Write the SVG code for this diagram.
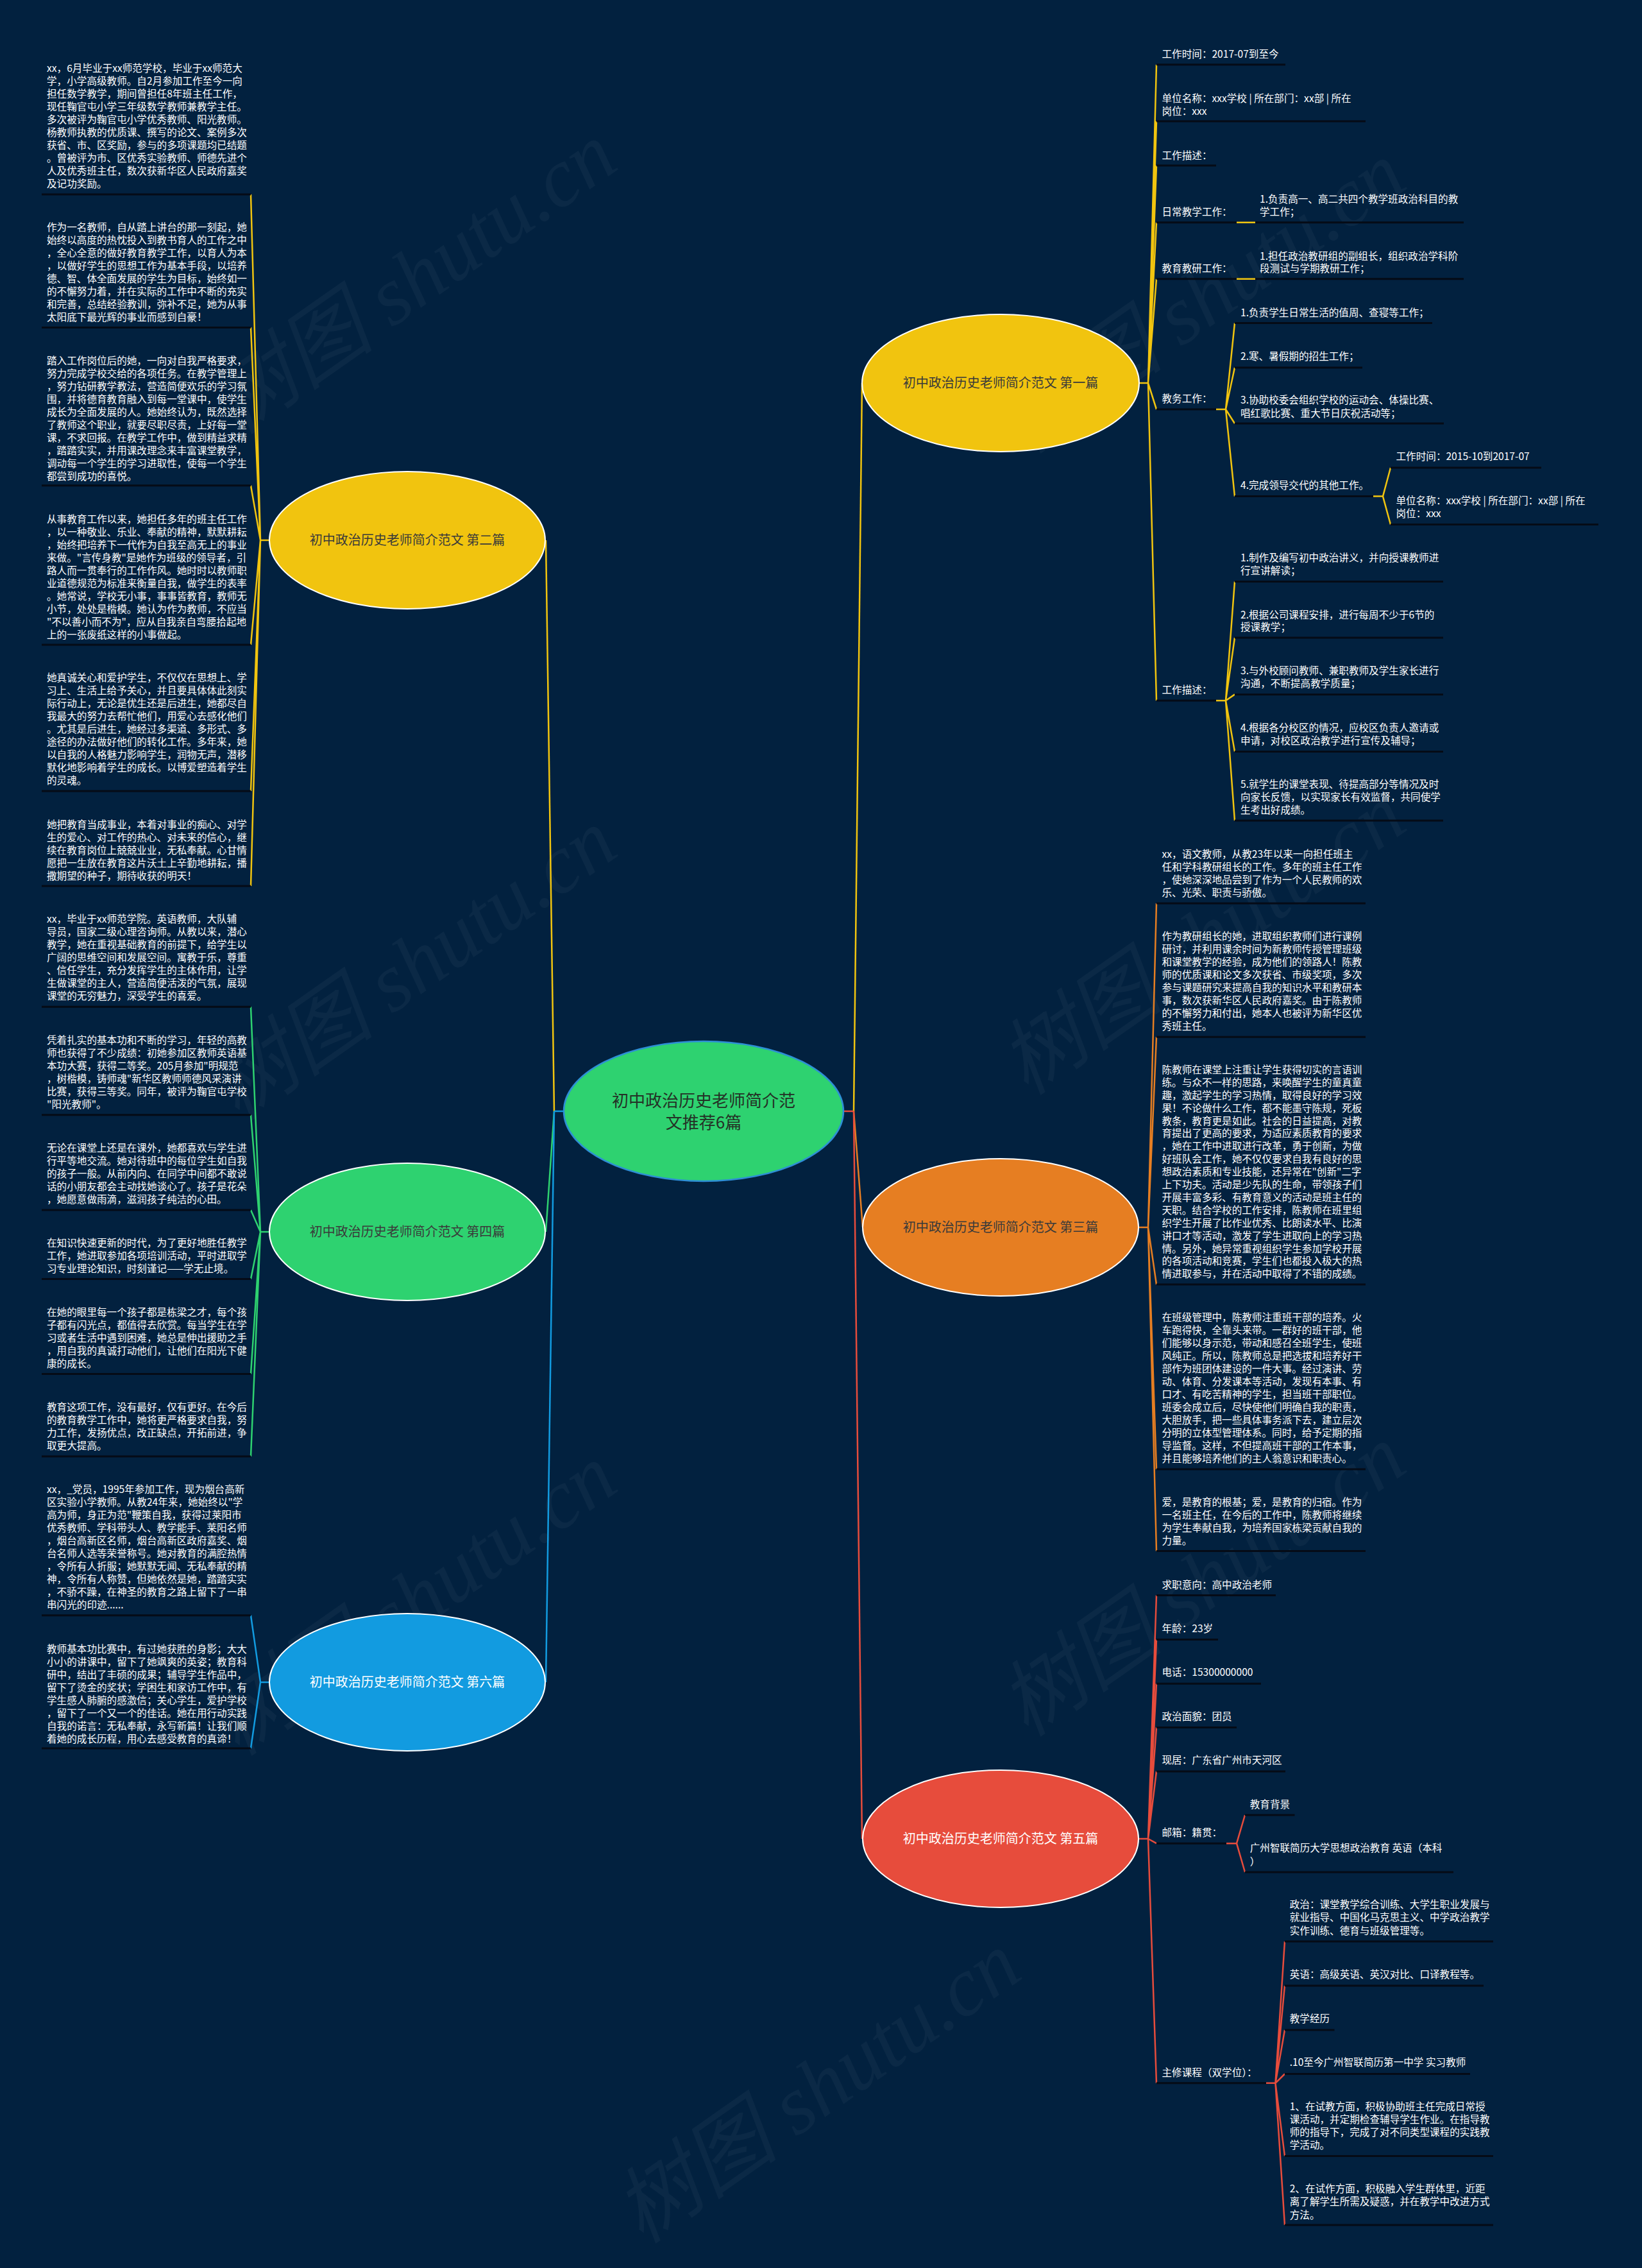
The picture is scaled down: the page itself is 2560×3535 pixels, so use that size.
<svg xmlns="http://www.w3.org/2000/svg" width="2560" height="3535" viewBox="0 0 2560 3535">
<style>
.bg{fill:#02213f}
.t{font-family:"Noto Sans CJK SC","Noto Sans",sans-serif;font-size:15.6px;fill:#ffffff}
.nt{font-family:"Noto Sans CJK SC","Noto Sans",sans-serif;font-size:20px;text-anchor:middle}
.ct{font-family:"Noto Sans CJK SC","Noto Sans",sans-serif;font-size:26px;text-anchor:middle;fill:#243126}
.ul{stroke:#050b16;stroke-width:3;fill:none}
.cy{stroke:#f1c40f;stroke-width:2.5;fill:none}
.cg{stroke:#2ed270;stroke-width:2.5;fill:none}
.cb{stroke:#129be0;stroke-width:2.5;fill:none}
.co{stroke:#e67e22;stroke-width:2.5;fill:none}
.cr{stroke:#e74c3c;stroke-width:2.5;fill:none}
.wm{font-family:"Liberation Serif","Noto Sans CJK SC",serif;font-size:130px;font-style:italic;fill:#ffffff;fill-opacity:0.04;text-anchor:middle}
.node{stroke:#ffffff;stroke-width:2}
</style>
<rect class="bg" x="0" y="0" width="2560" height="3535"/>
<g id="watermarks">
<text class="wm" transform="translate(670,470) rotate(-35)">树图 shutu.cn</text>
<text class="wm" transform="translate(1900,500) rotate(-35)">树图 shutu.cn</text>
<text class="wm" transform="translate(670,1540) rotate(-35)">树图 shutu.cn</text>
<text class="wm" transform="translate(1900,1500) rotate(-35)">树图 shutu.cn</text>
<text class="wm" transform="translate(670,2530) rotate(-35)">树图 shutu.cn</text>
<text class="wm" transform="translate(1900,2500) rotate(-35)">树图 shutu.cn</text>
<text class="wm" transform="translate(1300,3290) rotate(-35)">树图 shutu.cn</text>
</g>
<g id="connectors">
<path class="cy" d="M864 1732 L851 842"/>
<path class="cg" d="M864 1732 L851 1920"/>
<path class="cb" d="M864 1732 L851 2622"/>
<path class="cb" d="M880 1732 H864"/>
<path class="cy" d="M1331 1732 L1344 597"/>
<path class="co" d="M1331 1732 L1345 1913"/>
<path class="cr" d="M1331 1732 L1344 2866"/>
<path class="cr" d="M1315 1732 H1331"/>
<path class="cy" d="M420 842 H406 M406 842 L391 303 M406 842 L391 510.4 M406 842 L391 756.8 M406 842 L391 1005 M406 842 L391 1232.9 M406 842 L391 1381"/>
<path class="cg" d="M420 1920 H406 M406 1920 L391 1569.3 M406 1920 L391 1737.8 M406 1920 L391 1886 M406 1920 L391 1993.6 M406 1920 L391 2141.4 M406 1920 L391 2270"/>
<path class="cb" d="M420 2622 H406 M406 2622 L391 2517.7 M406 2622 L391 2725"/>
<path class="cy" d="M1775 597 H1790 M1790 597 L1803 100.7 M1790 597 L1803 189 M1790 597 L1803 258 M1790 597 L1803 346.7 M1790 597 L1803 434.8 M1790 597 L1803 638 M1790 597 L1803 1092"/>
<path class="cy" d="M1928 346.7 H1957 M1928 434.8 H1957"/>
<path class="cy" d="M1896 638 H1911 M1911 638 L1925 503.6 M1911 638 L1925 573 M1911 638 L1925 660 M1911 638 L1925 773.6"/>
<path class="cy" d="M2141 773.6 H2156 M2156 773.6 L2168 729 M2156 773.6 L2168 817.5"/>
<path class="cy" d="M1896 1092 H1911 M1911 1092 L1925 906.5 M1911 1092 L1925 994 M1911 1092 L1925 1082.4 M1911 1092 L1925 1171.4 M1911 1092 L1925 1279"/>
<path class="co" d="M1775 1913 H1790 M1790 1913 L1803 1408 M1790 1913 L1803 1616.3 M1790 1913 L1803 2002 M1790 1913 L1803 2290 M1790 1913 L1803 2417.5"/>
<path class="cr" d="M1775 2866 H1790 M1790 2866 L1803 2486.5 M1790 2866 L1803 2555.4 M1790 2866 L1803 2624.2 M1790 2866 L1803 2692.4 M1790 2866 L1803 2761 M1790 2866 L1803 2873.2 M1790 2866 L1803 3246.8"/>
<path class="cr" d="M1912 2873.2 H1928 M1928 2873.2 L1941 2829 M1928 2873.2 L1941 2918"/>
<path class="cr" d="M1974 3246.8 H1988.5 M1988.5 3246.8 L2003 3026 M1988.5 3246.8 L2003 3095 M1988.5 3246.8 L2003 3164 M1988.5 3246.8 L2003 3232.5 M1988.5 3246.8 L2003 3360.4 M1988.5 3246.8 L2003 3468"/>
</g>
<g id="center">
<ellipse cx="1097" cy="1732" rx="218" ry="109" fill="#2ed270" stroke="#2d8fd5" stroke-width="2.5"/>
<text class="ct" x="1097" y="1724.5">初中政治历史老师简介范</text>
<text class="ct" x="1097" y="1759">文推荐6篇</text>
</g>
<g id="n1">
<ellipse class="node" cx="1560" cy="597" rx="216" ry="107" fill="#f1c40f"/>
<text class="nt" x="1560" y="604" fill="#3a3a3a">初中政治历史老师简介范文 第一篇</text>
</g>
<g id="n2">
<ellipse class="node" cx="635" cy="842" rx="215" ry="107" fill="#f1c40f"/>
<text class="nt" x="635" y="849" fill="#3a3a3a">初中政治历史老师简介范文 第二篇</text>
</g>
<g id="n3">
<ellipse class="node" cx="1560" cy="1913" rx="215" ry="107" fill="#e67e22"/>
<text class="nt" x="1560" y="1920" fill="#3a3a3a">初中政治历史老师简介范文 第三篇</text>
</g>
<g id="n4">
<ellipse class="node" cx="635" cy="1920" rx="215" ry="107" fill="#2ed270"/>
<text class="nt" x="635" y="1927" fill="#3a3a3a">初中政治历史老师简介范文 第四篇</text>
</g>
<g id="n5">
<ellipse class="node" cx="1560" cy="2866" rx="215" ry="107" fill="#e74c3c"/>
<text class="nt" x="1560" y="2873" fill="#ffffff">初中政治历史老师简介范文 第五篇</text>
</g>
<g id="n6">
<ellipse class="node" cx="635" cy="2622" rx="215" ry="107" fill="#129be0"/>
<text class="nt" x="635" y="2629" fill="#ffffff">初中政治历史老师简介范文 第六篇</text>
</g>
<g id="left-texts">
<g id="l1"><path class="ul" d="M65 303 H391"/><text class="t" x="73" y="112.3"><tspan x="73">xx，6月毕业于xx师范学校，毕业于xx师范大</tspan><tspan x="73" dy="20">学，小学高级教师。自2月参加工作至今一向</tspan><tspan x="73" dy="20">担任数学教学，期间曾担任8年班主任工作，</tspan><tspan x="73" dy="20">现任鞠官屯小学三年级数学教师兼教学主任。</tspan><tspan x="73" dy="20">多次被评为鞠官屯小学优秀教师、阳光教师。</tspan><tspan x="73" dy="20">杨教师执教的优质课、撰写的论文、案例多次</tspan><tspan x="73" dy="20">获省、市、区奖励，参与的多项课题均已结题</tspan><tspan x="73" dy="20">。曾被评为市、区优秀实验教师、师德先进个</tspan><tspan x="73" dy="20">人及优秀班主任，数次获新华区人民政府嘉奖</tspan><tspan x="73" dy="20">及记功奖励。</tspan></text></g>
<g id="l2"><path class="ul" d="M65 510.4 H391"/><text class="t" x="73" y="359.8"><tspan x="73">作为一名教师，自从踏上讲台的那一刻起，她</tspan><tspan x="73" dy="20">始终以高度的热忱投入到教书育人的工作之中</tspan><tspan x="73" dy="20">，全心全意的做好教育教学工作，以育人为本</tspan><tspan x="73" dy="20">，以做好学生的思想工作为基本手段，以培养</tspan><tspan x="73" dy="20">德、智、体全面发展的学生为目标，始终如一</tspan><tspan x="73" dy="20">的不懈努力着，并在实际的工作中不断的充实</tspan><tspan x="73" dy="20">和完善，总结经验教训，弥补不足，她为从事</tspan><tspan x="73" dy="20">太阳底下最光辉的事业而感到自豪！</tspan></text></g>
<g id="l3"><path class="ul" d="M65 756.8 H391"/><text class="t" x="73" y="567.5"><tspan x="73">踏入工作岗位后的她，一向对自我严格要求，</tspan><tspan x="73" dy="20">努力完成学校交给的各项任务。在教学管理上</tspan><tspan x="73" dy="20">，努力钻研教学教法，营造简便欢乐的学习氛</tspan><tspan x="73" dy="20">围，并将德育教育融入到每一堂课中，使学生</tspan><tspan x="73" dy="20">成长为全面发展的人。她始终认为，既然选择</tspan><tspan x="73" dy="20">了教师这个职业，就要尽职尽责，上好每一堂</tspan><tspan x="73" dy="20">课，不求回报。在教学工作中，做到精益求精</tspan><tspan x="73" dy="20">，踏踏实实，并用课改理念来丰富课堂教学，</tspan><tspan x="73" dy="20">调动每一个学生的学习进取性，使每一个学生</tspan><tspan x="73" dy="20">都尝到成功的喜悦。</tspan></text></g>
<g id="l4"><path class="ul" d="M65 1005 H391"/><text class="t" x="73" y="815.1"><tspan x="73">从事教育工作以来，她担任多年的班主任工作</tspan><tspan x="73" dy="20">，以一种敬业、乐业、奉献的精神，默默耕耘</tspan><tspan x="73" dy="20">，始终把培养下一代作为自我至高无上的事业</tspan><tspan x="73" dy="20">来做。"言传身教"是她作为班级的领导者，引</tspan><tspan x="73" dy="20">路人而一贯奉行的工作作风。她时时以教师职</tspan><tspan x="73" dy="20">业道德规范为标准来衡量自我，做学生的表率</tspan><tspan x="73" dy="20">。她常说，学校无小事，事事皆教育，教师无</tspan><tspan x="73" dy="20">小节，处处是楷模。她认为作为教师，不应当</tspan><tspan x="73" dy="20">"不以善小而不为"，应从自我亲自弯腰拾起地</tspan><tspan x="73" dy="20">上的一张废纸这样的小事做起。</tspan></text></g>
<g id="l5"><path class="ul" d="M65 1232.9 H391"/><text class="t" x="73" y="1062.3"><tspan x="73">她真诚关心和爱护学生，不仅仅在思想上、学</tspan><tspan x="73" dy="20">习上、生活上给予关心，并且要具体体此刻实</tspan><tspan x="73" dy="20">际行动上，无论是优生还是后进生，她都尽自</tspan><tspan x="73" dy="20">我最大的努力去帮忙他们，用爱心去感化他们</tspan><tspan x="73" dy="20">。尤其是后进生，她经过多渠道、多形式、多</tspan><tspan x="73" dy="20">途径的办法做好他们的转化工作。多年来，她</tspan><tspan x="73" dy="20">以自我的人格魅力影响学生，润物无声，潜移</tspan><tspan x="73" dy="20">默化地影响着学生的成长。以博爱塑造着学生</tspan><tspan x="73" dy="20">的灵魂。</tspan></text></g>
<g id="l6"><path class="ul" d="M65 1381 H391"/><text class="t" x="73" y="1290.9"><tspan x="73">她把教育当成事业，本着对事业的痴心、对学</tspan><tspan x="73" dy="20">生的爱心、对工作的热心、对未来的信心，继</tspan><tspan x="73" dy="20">续在教育岗位上兢兢业业，无私奉献。心甘情</tspan><tspan x="73" dy="20">愿把一生放在教育这片沃土上辛勤地耕耘，播</tspan><tspan x="73" dy="20">撒期望的种子，期待收获的明天！</tspan></text></g>
<g id="l7"><path class="ul" d="M65 1569.3 H391"/><text class="t" x="73" y="1438.4"><tspan x="73">xx，毕业于xx师范学院。英语教师，大队辅</tspan><tspan x="73" dy="20">导员，国家二级心理咨询师。从教以来，潜心</tspan><tspan x="73" dy="20">教学，她在重视基础教育的前提下，给学生以</tspan><tspan x="73" dy="20">广阔的思维空间和发展空间。寓教于乐，尊重</tspan><tspan x="73" dy="20">、信任学生，充分发挥学生的主体作用，让学</tspan><tspan x="73" dy="20">生做课堂的主人，营造简便活泼的气氛，展现</tspan><tspan x="73" dy="20">课堂的无穷魅力，深受学生的喜爱。</tspan></text></g>
<g id="l8"><path class="ul" d="M65 1737.8 H391"/><text class="t" x="73" y="1626.5"><tspan x="73">凭着扎实的基本功和不断的学习，年轻的高教</tspan><tspan x="73" dy="20">师也获得了不少成绩：初她参加区教师英语基</tspan><tspan x="73" dy="20">本功大赛，获得二等奖。205月参加"明规范</tspan><tspan x="73" dy="20">，树楷模，铸师魂"新华区教师师德风采演讲</tspan><tspan x="73" dy="20">比赛，获得三等奖。同年，被评为鞠官屯学校</tspan><tspan x="73" dy="20">"阳光教师"。</tspan></text></g>
<g id="l9"><path class="ul" d="M65 1886 H391"/><text class="t" x="73" y="1794.5"><tspan x="73">无论在课堂上还是在课外，她都喜欢与学生进</tspan><tspan x="73" dy="20">行平等地交流。她对待班中的每位学生如自我</tspan><tspan x="73" dy="20">的孩子一般。从前内向、在同学中间都不敢说</tspan><tspan x="73" dy="20">话的小朋友都会主动找她谈心了。孩子是花朵</tspan><tspan x="73" dy="20">，她愿意做雨滴，滋润孩子纯洁的心田。</tspan></text></g>
<g id="l10"><path class="ul" d="M65 1993.6 H391"/><text class="t" x="73" y="1942.5"><tspan x="73">在知识快速更新的时代，为了更好地胜任教学</tspan><tspan x="73" dy="20">工作，她进取参加各项培训活动，平时进取学</tspan><tspan x="73" dy="20">习专业理论知识，时刻谨记——学无止境。</tspan></text></g>
<g id="l11"><path class="ul" d="M65 2141.4 H391"/><text class="t" x="73" y="2050.9"><tspan x="73">在她的眼里每一个孩子都是栋梁之才，每个孩</tspan><tspan x="73" dy="20">子都有闪光点，都值得去欣赏。每当学生在学</tspan><tspan x="73" dy="20">习或者生活中遇到困难，她总是伸出援助之手</tspan><tspan x="73" dy="20">，用自我的真诚打动他们，让他们在阳光下健</tspan><tspan x="73" dy="20">康的成长。</tspan></text></g>
<g id="l12"><path class="ul" d="M65 2270 H391"/><text class="t" x="73" y="2199.1"><tspan x="73">教育这项工作，没有最好，仅有更好。在今后</tspan><tspan x="73" dy="20">的教育教学工作中，她将更严格要求自我，努</tspan><tspan x="73" dy="20">力工作，发扬优点，改正缺点，开拓前进，争</tspan><tspan x="73" dy="20">取更大提高。</tspan></text></g>
<g id="l13"><path class="ul" d="M65 2517.7 H391"/><text class="t" x="73" y="2327.2"><tspan x="73">xx，_党员，1995年参加工作，现为烟台高新</tspan><tspan x="73" dy="20">区实验小学教师。从教24年来，她始终以"学</tspan><tspan x="73" dy="20">高为师，身正为范"鞭策自我，获得过莱阳市</tspan><tspan x="73" dy="20">优秀教师、学科带头人、教学能手、莱阳名师</tspan><tspan x="73" dy="20">，烟台高新区名师，烟台高新区政府嘉奖、烟</tspan><tspan x="73" dy="20">台名师人选等荣誉称号。她对教育的满腔热情</tspan><tspan x="73" dy="20">，令所有人折服；她默默无闻、无私奉献的精</tspan><tspan x="73" dy="20">神，令所有人称赞，但她依然是她，踏踏实实</tspan><tspan x="73" dy="20">，不骄不躁，在神圣的教育之路上留下了一串</tspan><tspan x="73" dy="20">串闪光的印迹......</tspan></text></g>
<g id="l14"><path class="ul" d="M65 2725 H391"/><text class="t" x="73" y="2575.5"><tspan x="73">教师基本功比赛中，有过她获胜的身影；大大</tspan><tspan x="73" dy="20">小小的讲课中，留下了她飒爽的英姿；教育科</tspan><tspan x="73" dy="20">研中，结出了丰硕的成果；辅导学生作品中，</tspan><tspan x="73" dy="20">留下了烫金的奖状；学困生和家访工作中，有</tspan><tspan x="73" dy="20">学生感人肺腑的感激信；关心学生，爱护学校</tspan><tspan x="73" dy="20">，留下了一个又一个的佳话。她在用行动实践</tspan><tspan x="73" dy="20">自我的诺言：无私奉献，永写新篇！让我们顺</tspan><tspan x="73" dy="20">着她的成长历程，用心去感受教育的真谛！</tspan></text></g>
</g>
<g id="right-texts">
<g id="r1"><path class="ul" d="M1803 100.7 H2004"/><text class="t" x="1811.5" y="90">工作时间：2017-07到至今</text></g>
<g id="r2"><path class="ul" d="M1803 189 H2129"/><text class="t" x="1811.5" y="158.5"><tspan x="1811.5">单位名称：xxx学校 | 所在部门：xx部 | 所在</tspan><tspan x="1811.5" dy="20.5">岗位：xxx</tspan></text></g>
<g id="r3"><path class="ul" d="M1803 258 H1896"/><text class="t" x="1811.5" y="247.5">工作描述：</text></g>
<g id="r4"><path class="ul" d="M1803 346.7 H1928"/><text class="t" x="1811.5" y="335.5">日常教学工作：</text></g>
<g id="r4a"><path class="ul" d="M1957 346.7 H2282"/><text class="t" x="1964" y="315.5"><tspan x="1964">1.负责高一、高二共四个教学班政治科目的教</tspan><tspan x="1964" dy="20">学工作；</tspan></text></g>
<g id="r5"><path class="ul" d="M1803 434.8 H1928"/><text class="t" x="1811.5" y="424.1">教育教研工作：</text></g>
<g id="r5a"><path class="ul" d="M1957 434.8 H2282"/><text class="t" x="1964" y="404.5"><tspan x="1964">1.担任政治教研组的副组长，组织政治学科阶</tspan><tspan x="1964" dy="19.6">段测试与学期教研工作；</tspan></text></g>
<g id="r6"><path class="ul" d="M1803 638 H1896"/><text class="t" x="1811.5" y="627">教务工作：</text></g>
<g id="r6a"><path class="ul" d="M1925 503.6 H2233"/><text class="t" x="1934" y="492.5">1.负责学生日常生活的值周、查寝等工作；</text></g>
<g id="r6b"><path class="ul" d="M1925 573 H2124"/><text class="t" x="1934" y="560.5">2.寒、暑假期的招生工作；</text></g>
<g id="r6c"><path class="ul" d="M1925 660 H2251"/><text class="t" x="1934" y="629"><tspan x="1934">3.协助校委会组织学校的运动会、体操比赛、</tspan><tspan x="1934" dy="20.5">唱红歌比赛、重大节日庆祝活动等；</tspan></text></g>
<g id="r6d"><path class="ul" d="M1925 773.6 H2141"/><text class="t" x="1934" y="761.5">4.完成领导交代的其他工作。</text></g>
<g id="r6d1"><path class="ul" d="M2168 729 H2403"/><text class="t" x="2176.5" y="717">工作时间：2015-10到2017-07</text></g>
<g id="r6d2"><path class="ul" d="M2168 817.5 H2492"/><text class="t" x="2176.5" y="786.2"><tspan x="2176.5">单位名称：xxx学校 | 所在部门：xx部 | 所在</tspan><tspan x="2176.5" dy="19.8">岗位：xxx</tspan></text></g>
<g id="r7"><path class="ul" d="M1803 1092 H1896"/><text class="t" x="1811.5" y="1080.5">工作描述：</text></g>
<g id="r7a"><path class="ul" d="M1925 906.5 H2250"/><text class="t" x="1934" y="875.2"><tspan x="1934">1.制作及编写初中政治讲义，并向授课教师进</tspan><tspan x="1934" dy="19.8">行宣讲解读；</tspan></text></g>
<g id="r7b"><path class="ul" d="M1925 994 H2250"/><text class="t" x="1934" y="963.5"><tspan x="1934">2.根据公司课程安排，进行每周不少于6节的</tspan><tspan x="1934" dy="19.6">授课教学；</tspan></text></g>
<g id="r7c"><path class="ul" d="M1925 1082.4 H2250"/><text class="t" x="1934" y="1051.1"><tspan x="1934">3.与外校顾问教师、兼职教师及学生家长进行</tspan><tspan x="1934" dy="19.8">沟通，不断提高教学质量；</tspan></text></g>
<g id="r7d"><path class="ul" d="M1925 1171.4 H2250"/><text class="t" x="1934" y="1140.1"><tspan x="1934">4.根据各分校区的情况，应校区负责人邀请或</tspan><tspan x="1934" dy="19.8">申请，对校区政治教学进行宣传及辅导；</tspan></text></g>
<g id="r7e"><path class="ul" d="M1925 1279 H2250"/><text class="t" x="1934" y="1228.3"><tspan x="1934">5.就学生的课堂表现、待提高部分等情况及时</tspan><tspan x="1934" dy="19.8">向家长反馈，以实现家长有效监督，共同使学</tspan><tspan x="1934" dy="19.8">生考出好成绩。</tspan></text></g>
<g id="o1"><path class="ul" d="M1803 1408 H2129"/><text class="t" x="1811.5" y="1336.9"><tspan x="1811.5">xx，语文教师，从教23年以来一向担任班主</tspan><tspan x="1811.5" dy="20">任和学科教研组长的工作。多年的班主任工作</tspan><tspan x="1811.5" dy="20">，使她深深地品尝到了作为一个人民教师的欢</tspan><tspan x="1811.5" dy="20">乐、光荣、职责与骄傲。</tspan></text></g>
<g id="o2"><path class="ul" d="M1803 1616.3 H2129"/><text class="t" x="1811.5" y="1465.3"><tspan x="1811.5">作为教研组长的她，进取组织教师们进行课例</tspan><tspan x="1811.5" dy="19.9">研讨，并利用课余时间为新教师传授管理班级</tspan><tspan x="1811.5" dy="19.9">和课堂教学的经验，成为他们的领路人！陈教</tspan><tspan x="1811.5" dy="19.9">师的优质课和论文多次获省、市级奖项，多次</tspan><tspan x="1811.5" dy="19.9">参与课题研究来提高自我的知识水平和教研本</tspan><tspan x="1811.5" dy="19.9">事，数次获新华区人民政府嘉奖。由于陈教师</tspan><tspan x="1811.5" dy="19.9">的不懈努力和付出，她本人也被评为新华区优</tspan><tspan x="1811.5" dy="19.9">秀班主任。</tspan></text></g>
<g id="o3"><path class="ul" d="M1803 2002 H2129"/><text class="t" x="1811.5" y="1672.9"><tspan x="1811.5">陈教师在课堂上注重让学生获得切实的言语训</tspan><tspan x="1811.5" dy="19.9">练。与众不一样的思路，来唤醒学生的童真童</tspan><tspan x="1811.5" dy="19.9">趣，激起学生的学习热情，取得良好的学习效</tspan><tspan x="1811.5" dy="19.9">果！不论做什么工作，都不能墨守陈规，死板</tspan><tspan x="1811.5" dy="19.9">教条，教育更是如此。社会的日益提高，对教</tspan><tspan x="1811.5" dy="19.9">育提出了更高的要求，为适应素质教育的要求</tspan><tspan x="1811.5" dy="19.9">，她在工作中进取进行改革，勇于创新，为做</tspan><tspan x="1811.5" dy="19.9">好班队会工作，她不仅仅要求自我有良好的思</tspan><tspan x="1811.5" dy="19.9">想政治素质和专业技能，还异常在"创新"二字</tspan><tspan x="1811.5" dy="19.9">上下功夫。活动是少先队的生命，带领孩子们</tspan><tspan x="1811.5" dy="19.9">开展丰富多彩、有教育意义的活动是班主任的</tspan><tspan x="1811.5" dy="19.9">天职。结合学校的工作安排，陈教师在班里组</tspan><tspan x="1811.5" dy="19.9">织学生开展了比作业优秀、比朗读水平、比演</tspan><tspan x="1811.5" dy="19.9">讲口才等活动，激发了学生进取向上的学习热</tspan><tspan x="1811.5" dy="19.9">情。另外，她异常重视组织学生参加学校开展</tspan><tspan x="1811.5" dy="19.9">的各项活动和竞赛，学生们也都投入极大的热</tspan><tspan x="1811.5" dy="19.9">情进取参与，并在活动中取得了不错的成绩。</tspan></text></g>
<g id="o4"><path class="ul" d="M1803 2290 H2129"/><text class="t" x="1811.5" y="2059.4"><tspan x="1811.5">在班级管理中，陈教师注重班干部的培养。火</tspan><tspan x="1811.5" dy="19.95">车跑得快，全靠头来带。一群好的班干部，他</tspan><tspan x="1811.5" dy="19.95">们能够以身示范，带动和感召全班学生，使班</tspan><tspan x="1811.5" dy="19.95">风纯正。所以，陈教师总是把选拔和培养好干</tspan><tspan x="1811.5" dy="19.95">部作为班团体建设的一件大事。经过演讲、劳</tspan><tspan x="1811.5" dy="19.95">动、体育、分发课本等活动，发现有本事、有</tspan><tspan x="1811.5" dy="19.95">口才、有吃苦精神的学生，担当班干部职位。</tspan><tspan x="1811.5" dy="19.95">班委会成立后，尽快使他们明确自我的职责，</tspan><tspan x="1811.5" dy="19.95">大胆放手，把一些具体事务派下去，建立层次</tspan><tspan x="1811.5" dy="19.95">分明的立体型管理体系。同时，给予定期的指</tspan><tspan x="1811.5" dy="19.95">导监督。这样，不但提高班干部的工作本事，</tspan><tspan x="1811.5" dy="19.95">并且能够培养他们的主人翁意识和职责心。</tspan></text></g>
<g id="o5"><path class="ul" d="M1803 2417.5 H2129"/><text class="t" x="1811.5" y="2347.2"><tspan x="1811.5">爱，是教育的根基；爱，是教育的归宿。作为</tspan><tspan x="1811.5" dy="20">一名班主任，在今后的工作中，陈教师将继续</tspan><tspan x="1811.5" dy="20">为学生奉献自我，为培养国家栋梁贡献自我的</tspan><tspan x="1811.5" dy="20">力量。</tspan></text></g>
<g id="p1"><path class="ul" d="M1803 2486.5 H1989"/><text class="t" x="1811.5" y="2475.8">求职意向：高中政治老师</text></g>
<g id="p2"><path class="ul" d="M1803 2555.4 H1899"/><text class="t" x="1811.5" y="2543.5">年龄：23岁</text></g>
<g id="p3"><path class="ul" d="M1803 2624.2 H1966"/><text class="t" x="1811.5" y="2611.5">电话：15300000000</text></g>
<g id="p4"><path class="ul" d="M1803 2692.4 H1928"/><text class="t" x="1811.5" y="2680.5">政治面貌：团员</text></g>
<g id="p5"><path class="ul" d="M1803 2761 H2004"/><text class="t" x="1811.5" y="2749.2">现居：广东省广州市天河区</text></g>
<g id="p6"><path class="ul" d="M1803 2873.2 H1912"/><text class="t" x="1811.5" y="2862.2">邮箱：籍贯：</text></g>
<g id="p6a"><path class="ul" d="M1941 2829 H2018.5"/><text class="t" x="1948.7" y="2817.5">教育背景</text></g>
<g id="p6b"><path class="ul" d="M1941 2918 H2266"/><text class="t" x="1948.7" y="2886.3"><tspan x="1948.7">广州智联简历大学思想政治教育 英语（本科</tspan><tspan x="1948.7" dy="20.6">）</tspan></text></g>
<g id="p7"><path class="ul" d="M1803 3246.8 H1974"/><text class="t" x="1811.5" y="3236.2">主修课程（双学位）：</text></g>
<g id="p7a"><path class="ul" d="M2003 3026 H2328"/><text class="t" x="2010.7" y="2974.1"><tspan x="2010.7">政治：课堂教学综合训练、大学生职业发展与</tspan><tspan x="2010.7" dy="20.3">就业指导、中国化马克思主义、中学政治教学</tspan><tspan x="2010.7" dy="20.3">实作训练、德育与班级管理等。</tspan></text></g>
<g id="p7b"><path class="ul" d="M2003 3095 H2313"/><text class="t" x="2010.7" y="3082.5">英语：高级英语、英汉对比、口译教程等。</text></g>
<g id="p7c"><path class="ul" d="M2003 3164 H2080.5"/><text class="t" x="2010.7" y="3151.5">教学经历</text></g>
<g id="p7d"><path class="ul" d="M2003 3232.5 H2292"/><text class="t" x="2010.7" y="3220.1">.10至今广州智联简历第一中学 实习教师</text></g>
<g id="p7e"><path class="ul" d="M2003 3360.4 H2328"/><text class="t" x="2010.7" y="3289.1"><tspan x="2010.7">1、在试教方面，积极协助班主任完成日常授</tspan><tspan x="2010.7" dy="20.1">课活动，并定期检查辅导学生作业。在指导教</tspan><tspan x="2010.7" dy="20.1">师的指导下，完成了对不同类型课程的实践教</tspan><tspan x="2010.7" dy="20.1">学活动。</tspan></text></g>
<g id="p7f"><path class="ul" d="M2003 3468 H2328"/><text class="t" x="2010.7" y="3417.3"><tspan x="2010.7">2、在试作方面，积极融入学生群体里，近距</tspan><tspan x="2010.7" dy="20.1">离了解学生所需及疑惑，并在教学中改进方式</tspan><tspan x="2010.7" dy="20.1">方法。</tspan></text></g>
</g>
</svg>
